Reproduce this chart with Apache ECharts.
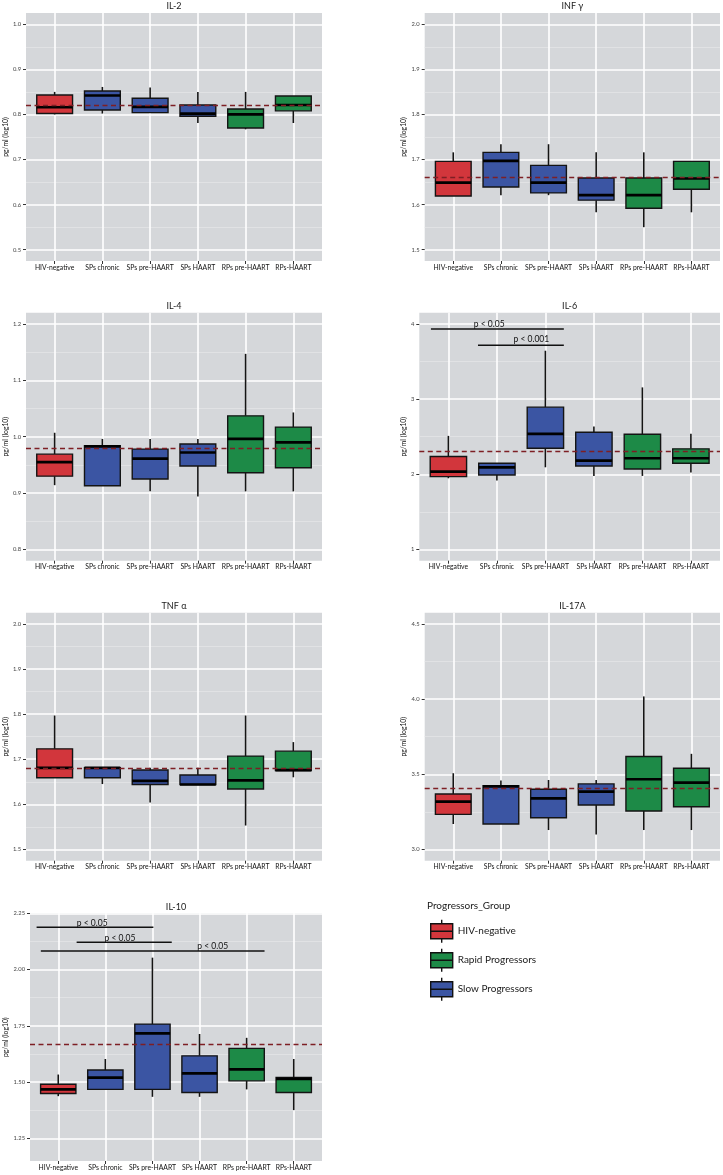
<!DOCTYPE html>
<html><head><meta charset="utf-8">
<script src="https://cdn.jsdelivr.net/npm/echarts@6/dist/echarts.min.js"></script>
<style>html,body{margin:0;padding:0;background:#fff}#c{width:723px;height:1175px}</style>
</head><body><div id="c"></div>
<script>
// ---------------- DATA ----------------
const categories = ['HIV-negative','SPs chronic','SPs pre-HAART','SPs HAART','RPs pre-HAART','RPs-HAART'];
const categoryGroup = ['HIV-negative','Slow Progressors','Slow Progressors','Slow Progressors','Rapid Progressors','Rapid Progressors'];
const groupNames = ['HIV-negative','Rapid Progressors','Slow Progressors'];
const yAxisTitle = 'pg/ml (log10)';
const legendTitle = 'Progressors_Group';

// each row: [min, Q1, median, Q3, max] per category (log10 pg/ml)
const il2Stats = [
  [0.800,0.802,0.816,0.843,0.850],
  [0.802,0.810,0.842,0.852,0.861],
  [0.803,0.804,0.817,0.836,0.860],
  [0.781,0.796,0.802,0.821,0.850],
  [0.767,0.770,0.800,0.812,0.850],
  [0.781,0.808,0.821,0.841,0.841]
];
const infgStats = [
  [1.619,1.619,1.649,1.696,1.716],
  [1.621,1.639,1.697,1.716,1.734],
  [1.621,1.626,1.649,1.687,1.734],
  [1.583,1.610,1.621,1.659,1.716],
  [1.550,1.592,1.621,1.659,1.716],
  [1.583,1.634,1.658,1.696,1.696]
];
const il4Stats = [
  [0.914,0.930,0.955,0.969,1.007],
  [0.913,0.913,0.983,0.984,0.996],
  [0.903,0.925,0.961,0.978,0.996],
  [0.894,0.948,0.972,0.987,0.996],
  [0.903,0.936,0.996,1.037,1.147],
  [0.903,0.945,0.990,1.017,1.043]
];
const il6Stats = [
  [1.947,1.969,2.036,2.236,2.511],
  [1.916,1.991,2.093,2.147,2.147],
  [2.093,2.347,2.538,2.893,3.644],
  [1.978,2.111,2.182,2.560,2.636],
  [1.978,2.071,2.213,2.533,3.156],
  [2.022,2.147,2.213,2.338,2.538]
];
const tnfStats = [
  [1.659,1.659,1.681,1.723,1.797],
  [1.645,1.659,1.681,1.681,1.681],
  [1.604,1.644,1.652,1.676,1.681],
  [1.644,1.644,1.644,1.665,1.681],
  [1.553,1.634,1.653,1.707,1.797],
  [1.660,1.675,1.676,1.718,1.738]
];
const il17aStats = [
  [3.169,3.233,3.318,3.369,3.507],
  [3.169,3.169,3.420,3.424,3.458],
  [3.129,3.211,3.340,3.400,3.462],
  [3.100,3.296,3.384,3.436,3.462],
  [3.129,3.256,3.467,3.618,4.018],
  [3.129,3.284,3.444,3.540,3.636]
];
const il10Stats = [
  [1.438,1.450,1.468,1.491,1.534],
  [1.468,1.468,1.520,1.554,1.603],
  [1.435,1.468,1.717,1.758,2.053],
  [1.435,1.454,1.539,1.617,1.714],
  [1.468,1.506,1.557,1.650,1.697],
  [1.376,1.454,1.515,1.521,1.603]
];

// overall reference (dashed) levels
const il2Ref = 0.822, infgRef = 1.658, il4Ref = 0.978, il6Ref = 2.298,
      tnfRef = 1.681, il17aRef = 3.407, il10Ref = 1.668;

// tick labels
const il2Ticks  = ['0.5','0.6','0.7','0.8','0.9','1.0'];
const infgTicks = ['1.5','1.6','1.7','1.8','1.9','2.0'];
const il4Ticks  = ['0.8','0.9','1.0','1.1','1.2'];
const il6Ticks  = ['1','2','3','4'];
const tnfTicks  = ['1.5','1.6','1.7','1.8','1.9','2.0'];
const il17aTicks = ['3.0','3.5','4.0','4.5'];
const il10Ticks = ['1.25','1.50','1.75','2.00','2.25'];

// significance brackets: [fromCat, toCat, level, textCat, textLevel]
const il6Sig = [[-0.36,2.38,3.933,0.84,4.0],[0.61,2.38,3.716,1.71,3.791]];
const il6SigText = ['p < 0.05','p < 0.001'];
const il10Sig = [[-0.46,2.02,2.188,0.72,2.206],[0.39,2.41,2.121,1.31,2.137],[-0.37,4.38,2.083,3.28,2.103]];
const il10SigText = ['p < 0.05','p < 0.05','p < 0.05'];

// ---------------- LAYOUT / STYLE ----------------
const FONT = 'Lato, "Open Sans", sans-serif';
const groupColors = {'HIV-negative':'#D2363C','Rapid Progressors':'#1D8A47','Slow Progressors':'#3B55A3'};
const BG = '#D5D7DA';
const BOX_W = 0.75;

function minorsOf(ticks){
  const v = ticks.map(Number), out = [];
  for (let i=0;i<v.length-1;i++) out.push((v[i]+v[i+1])/2);
  return out;
}

const panels = [
  {title:'IL-2',  stats:il2Stats,  ref:il2Ref,  ticks:il2Ticks,  yMin:0.475, yMax:1.025, left:26,    top:13,    width:296,   height:248, gap:15.5, sig:[], sigText:[]},
  {title:'INF γ', stats:infgStats, ref:infgRef, ticks:infgTicks, yMin:1.475, yMax:2.025, left:424.7, top:13,    width:295.3, height:248, gap:15.5, sig:[], sigText:[]},
  {title:'IL-4',  stats:il4Stats,  ref:il4Ref,  ticks:il4Ticks,  yMin:0.78,  yMax:1.22,  left:26,    top:312.7, width:296,   height:248, gap:15.5, sig:[], sigText:[]},
  {title:'IL-6',  stats:il6Stats,  ref:il6Ref,  ticks:il6Ticks,  yMin:0.85,  yMax:4.15,  left:419.3, top:312.7, width:300.7, height:248, gap:10,   sig:il6Sig, sigText:il6SigText},
  {title:'TNF α', stats:tnfStats,  ref:tnfRef,  ticks:tnfTicks,  yMin:1.475, yMax:2.025, left:26,    top:612.7, width:296,   height:248, gap:15.5, sig:[], sigText:[]},
  {title:'IL-17A',stats:il17aStats,ref:il17aRef,ticks:il17aTicks,yMin:2.925, yMax:4.575, left:424.7, top:612.7, width:295.3, height:248, gap:15.5, sig:[], sigText:[]},
  {title:'IL-10', stats:il10Stats, ref:il10Ref, ticks:il10Ticks, yMin:1.15,  yMax:2.25,  left:30,    top:913.3, width:292,   height:247.7, gap:19.5, sig:il10Sig, sigText:il10SigText}
];

function renderBox(params, api){
  const x = api.value(0);
  const lo = api.coord([x, api.value(1)]);
  const q1 = api.coord([x, api.value(2)]);
  const md = api.coord([x, api.value(3)]);
  const q3 = api.coord([x, api.value(4)]);
  const hi = api.coord([x, api.value(5)]);
  const w = api.size([BOX_W, 0])[0];
  const cx = md[0];
  const ink = '#141414';
  return {type:'group', children:[
    {type:'line', shape:{x1:cx,y1:hi[1],x2:cx,y2:q3[1]}, style:{stroke:ink,lineWidth:1.6}},
    {type:'line', shape:{x1:cx,y1:q1[1],x2:cx,y2:lo[1]}, style:{stroke:ink,lineWidth:1.6}},
    {type:'rect', shape:{x:cx-w/2,y:q3[1],width:w,height:Math.max(q1[1]-q3[1],0.5)}, style:{fill:api.visual('color'),stroke:ink,lineWidth:1.4}},
    {type:'line', shape:{x1:cx-w/2,y1:md[1],x2:cx+w/2,y2:md[1]}, style:{stroke:'#000',lineWidth:2.7}}
  ]};
}

function makeSigRenderer(texts){
  return function(params, api){
    const a = api.coord([api.value(0), api.value(2)]);
    const b = api.coord([api.value(1), api.value(2)]);
    const t = api.coord([api.value(3), api.value(4)]);
    return {type:'group', children:[
      {type:'line', shape:{x1:a[0],y1:a[1],x2:b[0],y2:b[1]}, style:{stroke:'#111',lineWidth:1.5}},
      {type:'text', style:{text:texts[params.dataIndex], x:t[0], y:t[1], align:'center', verticalAlign:'middle',
        fontSize:8.5, fontFamily:FONT, fill:'#111'}}
    ]};
  };
}

const option = {
  animation:false,
  backgroundColor:'#fff',
  textStyle:{fontFamily:FONT},
  title:[], grid:[], xAxis:[], yAxis:[], series:[],
  legend:{
    orient:'vertical', left:430, top:919, padding:0,
    itemWidth:22, itemHeight:23, itemGap:4.6,
    data:groupNames, selectedMode:false,
    icon:'path://M11,0L11,4M0,4L22,4L22,19L0,19ZM0,11.5L22,11.5M11,19L11,23',
    itemStyle:{borderColor:'#111', borderWidth:1.4},
    textStyle:{fontSize:10, color:'#1a1a1a', fontFamily:FONT}
  }
};

option.title.push({text:legendTitle, left:427, top:901, padding:0,
  textStyle:{fontSize:10, fontWeight:'normal', color:'#1a1a1a', fontFamily:FONT}});

panels.forEach((p, g) => {
  option.title.push({text:p.title, left:p.left + p.width/2, top:p.top - 11, textAlign:'center', padding:0,
    textStyle:{fontSize:9, fontWeight:'normal', color:'#1a1a1a', fontFamily:FONT}});
  option.grid.push({left:p.left, top:p.top, width:p.width, height:p.height, show:true,
    backgroundColor:BG, borderWidth:0, containLabel:false});
  const catIdx = categories.map((c,i)=>i);
  option.xAxis.push({
    type:'value', gridIndex:g, min:-0.6, max:5.6, position:'bottom',
    axisLine:{show:false, onZero:false},
    axisTick:{show:true, length:3, customValues:catIdx, lineStyle:{color:'#333', width:1}},
    axisLabel:{customValues:catIdx, formatter:(v)=>categories[Math.round(v)], fontSize:6.8, color:'#111', margin:3, fontFamily:FONT},
    splitLine:{show:true, lineStyle:{color:'#fff', width:1.6}}
  });
  const majors = p.ticks.map(Number);
  option.yAxis.push({
    type:'value', gridIndex:g, min:p.yMin, max:p.yMax, position:'left',
    name:yAxisTitle, nameLocation:'middle', nameGap:p.gap, nameRotate:90,
    nameTextStyle:{fontSize:6.8, color:'#111', fontFamily:FONT},
    axisLine:{show:false, onZero:false},
    axisTick:{show:true, length:3, customValues:majors, lineStyle:{color:'#333', width:1}},
    axisLabel:{customValues:majors, formatter:(v)=>p.ticks[majors.findIndex(m=>Math.abs(m-v)<1e-9)], fontSize:5.8, color:'#444', margin:5, fontFamily:FONT},
    splitLine:{show:true, lineStyle:{color:'#fff', width:1.5}}
  });
  const minors = minorsOf(p.ticks);
  option.yAxis.push({
    type:'value', gridIndex:g, min:p.yMin, max:p.yMax, position:'left',
    axisLine:{show:false, onZero:false},
    axisTick:{show:false, customValues:minors},
    axisLabel:{show:false, customValues:minors},
    splitLine:{show:true, lineStyle:{color:'#E3E4E6', width:0.8}}
  });
  groupNames.forEach(gn => {
    const data = [];
    p.stats.forEach((s, i) => { if (categoryGroup[i] === gn) data.push([i].concat(s)); });
    option.series.push({
      name:gn, type:'custom', xAxisIndex:g, yAxisIndex:2*g,
      itemStyle:{color:groupColors[gn], borderColor:'#111', borderWidth:1.3},
      encode:{x:0, y:[1,2,3,4,5]},
      renderItem:renderBox, data:data, z:3, silent:true
    });
  });
  option.series.push({
    name:'ref-'+p.title, type:'line', xAxisIndex:g, yAxisIndex:2*g, data:[], z:5,
    markLine:{silent:true, symbol:['none','none'], label:{show:false},
      lineStyle:{type:[5,3.5], color:'#7E1F24', width:1.4}, data:[{yAxis:p.ref}]}
  });
  if (p.sig.length){
    option.series.push({
      name:'sig-'+p.title, type:'custom', xAxisIndex:g, yAxisIndex:2*g,
      encode:{x:[0,1,3], y:[2,4]}, renderItem:makeSigRenderer(p.sigText), data:p.sig, z:6, silent:true
    });
  }
});

const chart = echarts.init(document.getElementById('c'), null, {renderer:'canvas'});
chart.setOption(option);
</script>
</body></html>
